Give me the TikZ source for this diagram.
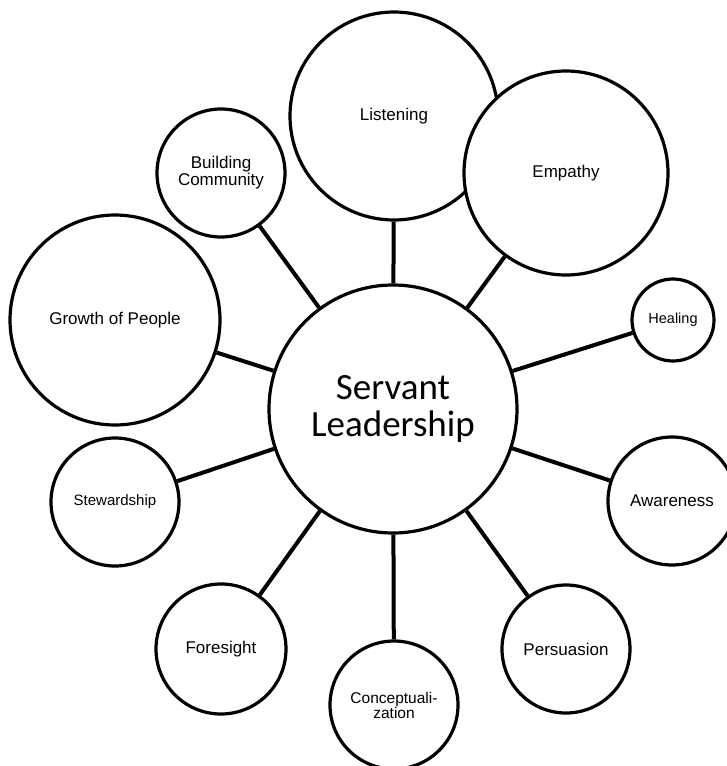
\documentclass[tikz,border=0pt]{standalone}
\usepackage{fontspec}
\setmainfont{Liberation Sans}
\newfontfamily\carlitofont{Carlito}
\begin{document}
\begin{tikzpicture}[x=1pt,y=-1pt,
  bubble/.style={circle,draw=black,line width=3.2pt,fill=white,inner sep=0pt,align=center,
    font=\fontsize{17}{17}\selectfont},
  link/.style={line width=4pt}]
\useasboundingbox (0,0) rectangle (726,766);
\node[bubble,minimum size=248pt,font=\carlitofont\fontsize{37}{37}\selectfont] (sl) at (393,409) {Servant\\Leadership};
\node[bubble,minimum size=208pt] (listen) at (394,116) {Listening};
\node[bubble,minimum size=204pt] (emp) at (566,173) {Empathy};
\node[bubble,minimum size=82pt,font=\fontsize{14.5}{15}\selectfont] (heal) at (673,320) {Healing};
\node[bubble,minimum size=128pt] (aware) at (672,501) {Awareness};
\node[bubble,minimum size=128pt] (pers) at (566,649) {Persuasion};
\node[bubble,minimum size=128pt,font=\fontsize{15.5}{15}\selectfont] (conc) at (394,705) {Conceptuali-\\zation};
\node[bubble,minimum size=130pt] (fore) at (221,649) {Foresight};
\node[bubble,minimum size=128pt,font=\fontsize{15}{15}\selectfont] (stew) at (115,502) {Stewardship};
\node[bubble,minimum size=210pt] (grow) at (115,320) {Growth of People};
\node[bubble,minimum size=128pt] (build) at (221,173) {Building\\Community};
\foreach \n in {listen,emp,heal,aware,pers,conc,fore,stew,grow,build}
  \draw[link] (sl) -- (\n);
\end{tikzpicture}
\end{document}
